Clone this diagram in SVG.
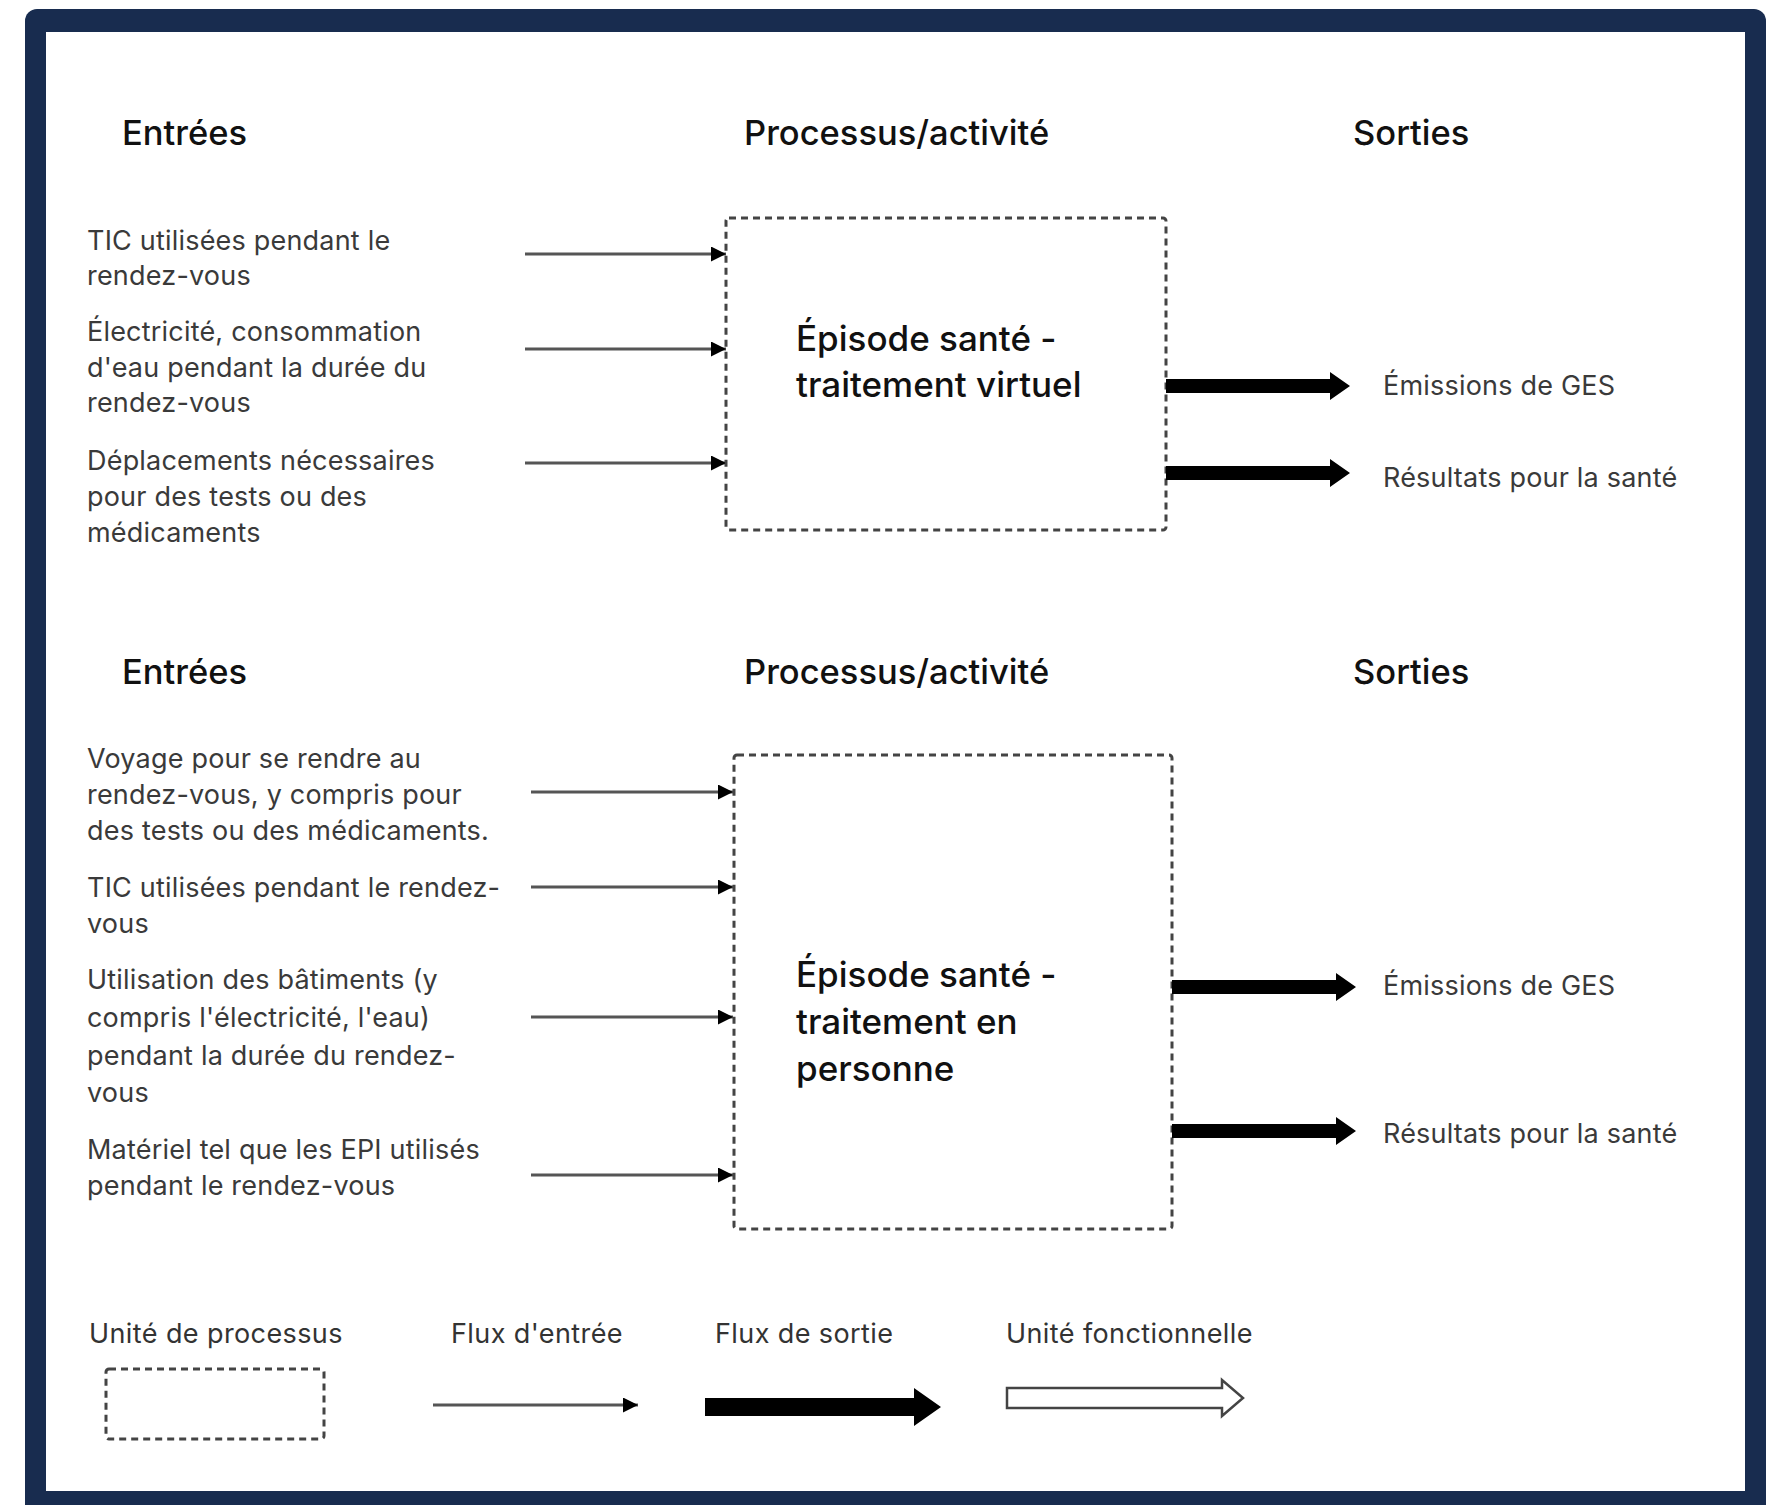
<svg xmlns="http://www.w3.org/2000/svg" xmlns:xlink="http://www.w3.org/1999/xlink" width="1771" height="1505" viewBox="0 0 1771 1505">
<defs>
<style>
.hdr{font-family:Inter,"Liberation Sans",sans-serif;font-size:34.5px;font-weight:500;fill:#111;}
.txt{font-family:Inter,"Liberation Sans",sans-serif;font-size:27px;letter-spacing:0.2px;fill:#3a3a3a;}
.box{font-family:Inter,"Liberation Sans",sans-serif;font-size:35px;font-weight:500;fill:#111;}
.leg{font-family:Inter,"Liberation Sans",sans-serif;font-size:27px;letter-spacing:0.4px;fill:#333;}
.proc{fill:#fff;stroke:#444;stroke-width:3;stroke-dasharray:7 5;}
.inflow{stroke:#555;stroke-width:3;fill:none;marker-end:url(#tri);}
.outflow{fill:#000;}
</style>
<marker id="tri" viewBox="0 0 10 10" refX="10" refY="5" markerWidth="5" markerHeight="5" markerUnits="strokeWidth" orient="auto">
<path d="M0,0 L10,5 L0,10 Z" fill="#000"/>
</marker>
<path id="outArrow" d="M0,-7 H164 V-14 L184,0 L164,14 V7 H0 Z"/>
</defs>
<rect x="0" y="0" width="1771" height="1505" fill="#fff"/>
<g id="frame">
<rect x="25" y="9" width="1741" height="1520" rx="12" fill="#182c4f"/>
<rect x="46" y="32" width="1699" height="1459" fill="#fff"/>
</g>
<g id="headers1">
<text class="hdr" x="122" y="145">Entrées</text>
<text class="hdr" x="744" y="145">Processus/activité</text>
<text class="hdr" x="1353" y="145">Sorties</text>
</g>
<g id="headers2">
<text class="hdr" x="122" y="684">Entrées</text>
<text class="hdr" x="744" y="684">Processus/activité</text>
<text class="hdr" x="1353" y="684">Sorties</text>
</g>
<g id="in1a"><text class="txt" x="87" y="250">TIC utilisées pendant le<tspan x="87" y="285">rendez-vous</tspan></text></g>
<g id="in1b"><text class="txt" x="87" y="341">Électricité, consommation<tspan x="87" y="377">d'eau pendant la durée du</tspan><tspan x="87" y="412">rendez-vous</tspan></text></g>
<g id="in1c"><text class="txt" x="87" y="470">Déplacements nécessaires<tspan x="87" y="506">pour des tests ou des</tspan><tspan x="87" y="542">médicaments</tspan></text></g>
<g id="proc1">
<rect class="proc" x="726" y="218" width="440" height="312" rx="3"/>
<text class="box" x="796" y="351">Épisode santé -<tspan x="796" y="397">traitement virtuel</tspan></text>
</g>
<g id="out1a"><text class="txt" x="1383" y="395">Émissions de GES</text></g>
<g id="out1b"><text class="txt" x="1383" y="487">Résultats pour la santé</text></g>
<g id="in2a"><text class="txt" x="87" y="768">Voyage pour se rendre au<tspan x="87" y="804">rendez-vous, y compris pour</tspan><tspan x="87" y="840">des tests ou des médicaments.</tspan></text></g>
<g id="in2b"><text class="txt" x="87" y="897">TIC utilisées pendant le rendez-<tspan x="87" y="933">vous</tspan></text></g>
<g id="in2c"><text class="txt" x="87" y="989">Utilisation des bâtiments (y<tspan x="87" y="1027">compris l'électricité, l'eau)</tspan><tspan x="87" y="1065">pendant la durée du rendez-</tspan><tspan x="87" y="1102">vous</tspan></text></g>
<g id="in2d"><text class="txt" x="87" y="1159">Matériel tel que les EPI utilisés<tspan x="87" y="1195">pendant le rendez-vous</tspan></text></g>
<g id="proc2">
<rect class="proc" x="734" y="755" width="438" height="474" rx="3"/>
<text class="box" x="796" y="987">Épisode santé -<tspan x="796" y="1034">traitement en</tspan><tspan x="796" y="1081">personne</tspan></text>
</g>
<g id="out2a"><text class="txt" x="1383" y="995">Émissions de GES</text></g>
<g id="out2b"><text class="txt" x="1383" y="1143">Résultats pour la santé</text></g>
<g id="connectors">
<line class="inflow" x1="525" y1="254" x2="726" y2="254"/>
<line class="inflow" x1="525" y1="349" x2="726" y2="349"/>
<line class="inflow" x1="525" y1="463" x2="726" y2="463"/>
<use xlink:href="#outArrow" class="outflow" transform="translate(1166,386)"/>
<use xlink:href="#outArrow" class="outflow" transform="translate(1166,473)"/>
<line class="inflow" x1="531" y1="792" x2="733" y2="792"/>
<line class="inflow" x1="531" y1="887" x2="733" y2="887"/>
<line class="inflow" x1="531" y1="1017" x2="733" y2="1017"/>
<line class="inflow" x1="531" y1="1175" x2="733" y2="1175"/>
<use xlink:href="#outArrow" class="outflow" transform="translate(1172,987)"/>
<use xlink:href="#outArrow" class="outflow" transform="translate(1172,1131)"/>
</g>
<g id="legend">
<text class="leg" x="89" y="1343">Unité de processus</text>
<text class="leg" x="451" y="1343">Flux d'entrée</text>
<text class="leg" x="715" y="1343">Flux de sortie</text>
<text class="leg" x="1006" y="1343">Unité fonctionnelle</text>
<rect class="proc" x="106" y="1369" width="218" height="70" rx="3"/>
<line class="inflow" x1="433" y1="1405" x2="638" y2="1405"/>
<path d="M705,1398 H914 V1388 L941,1407 L914,1426 V1416 H705 Z" fill="#000"/>
<path d="M1007,1388 H1222 V1380 L1243,1398 L1222,1416 V1408 H1007 Z" fill="#fff" stroke="#444" stroke-width="2.5"/>
</g>
</svg>
